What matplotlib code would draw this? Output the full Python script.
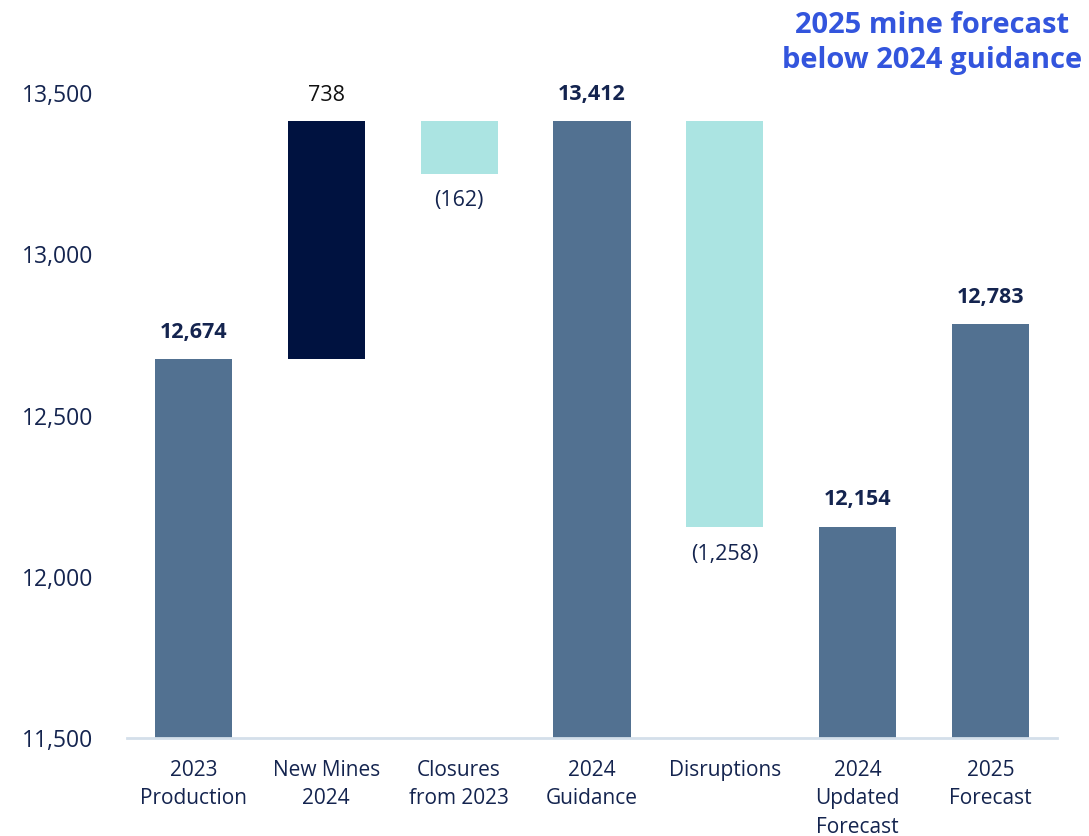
"""
Mine production waterfall: 2023 production -> 2024 guidance -> 2025 forecast.
"""

import matplotlib.pyplot as plt

# ============================================================
# Data
# ============================================================
categories = ["2023\nProduction", "New Mines\n2024", "Closures\nfrom 2023", "2024\nGuidance",
              "Disruptions", "2024\nUpdated\nForecast", "2025\nForecast"]
kinds = ["total", "up", "down", "total", "down", "total", "total"]
values = [12674, 738, -162, 13412, -1258, 12154, 12783]
# level that each change bar hangs from / sits on
anchors = [None, 12674, 13412, None, 13412, None, None]

Y_MIN, Y_MAX = 11500, 13600
y_ticks = [11500, 12000, 12500, 13000, 13500]

TOTAL_C = "#527191"
UP_C = "#001240"
DOWN_C = "#ABE4E2"
TEXT_C = "#14244F"
TITLE_C = "#3355DD"
FONT = ["Open Sans", "DejaVu Sans"]

plt.rcParams["font.family"] = FONT

fig = plt.figure(figsize=(10.89, 8.36), dpi=100)
ax = fig.add_axes([127 / 1089, 1 - 738 / 836, (1057 - 127) / 1089, (738 - 60.75) / 836])

x = list(range(len(categories)))
width = 0.58
for i, (kind, v, a) in enumerate(zip(kinds, values, anchors)):
    if kind == "total":
        ax.bar(i, v - Y_MIN, bottom=Y_MIN, width=width, color=TOTAL_C, zorder=2)
        ax.annotate(f"{v:,}", (i, v), xytext=(0, 12), textcoords="offset points",
                    ha="center", va="bottom", fontsize=15.5, fontweight="bold", color=TEXT_C)
    elif kind == "up":
        ax.bar(i, v, bottom=a, width=width, color=UP_C, zorder=2)
        ax.annotate(f"{v:,}", (i, a + v), xytext=(0, 11), textcoords="offset points",
                    ha="center", va="bottom", fontsize=15.5, color="#111111")
    else:
        ax.bar(i, v, bottom=a, width=width, color=DOWN_C, zorder=2)
        ax.annotate(f"({abs(v):,})", (i, a + v), xytext=(0, -12), textcoords="offset points",
                    ha="center", va="top", fontsize=15.5, color=TEXT_C)

ax.set_xlim(-0.5, len(categories) - 0.5)
ax.set_ylim(Y_MIN, Y_MAX)
ax.set_yticks(y_ticks)
ax.set_yticklabels([f"{t:,}" for t in y_ticks])
ax.set_xticks(x)
ax.set_xticklabels(categories, linespacing=1.45)

for s in ["top", "right", "left"]:
    ax.spines[s].set_visible(False)
ax.spines["bottom"].set_color("#D4DFEA")
ax.spines["bottom"].set_linewidth(2)
ax.spines["bottom"].set_zorder(3)
ax.tick_params(axis="both", length=0, labelsize=15, colors=TEXT_C)
ax.tick_params(axis="y", pad=24)
ax.tick_params(axis="x", pad=16)
for lbl in ax.get_yticklabels():
    lbl.set_fontsize(16.5)

fig.text(932 / 1089, 1 - 43 / 836, "2025 mine forecast\nbelow 2024 guidance", ha="center", va="center",
         multialignment="center", fontsize=21, fontweight="bold", color=TITLE_C, linespacing=1.25)

fig.savefig("out.png", dpi=100)
